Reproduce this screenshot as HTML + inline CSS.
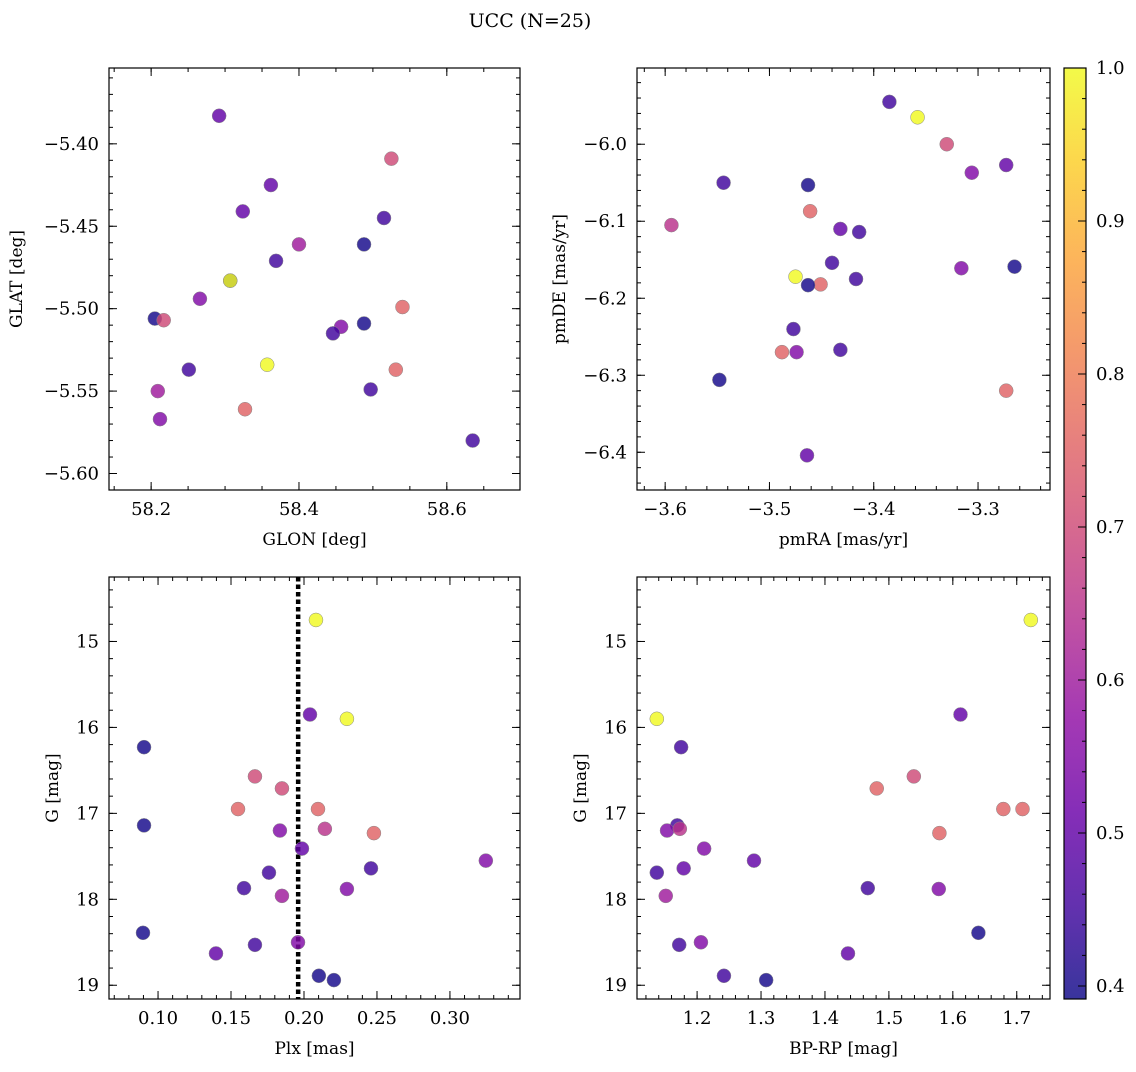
<!DOCTYPE html>
<html><head><meta charset="utf-8"><style>
body{margin:0;background:#fff;}
svg text{font-family:"DejaVu Serif","Liberation Serif",serif;fill:#000;}
</style></head><body>
<svg id="fig" width="1136" height="1067" viewBox="0 0 1136 1067" xmlns="http://www.w3.org/2000/svg">
<text x="530" y="27" font-size="19" text-anchor="middle">UCC (N=25)</text>
<defs><linearGradient id="cbg" x1="0" y1="1" x2="0" y2="0"></linearGradient></defs>
</svg>
<script>
// ---- data ----
const glon=[58.292,58.525,58.362,58.324,58.515,58.400,58.488,58.369,58.307,58.307,58.266,58.205,58.217,58.540,58.457,58.488,58.446,58.357,58.251,58.531,58.209,58.497,58.327,58.212,58.635];
const glat=[-5.383,-5.409,-5.425,-5.441,-5.445,-5.461,-5.461,-5.471,-5.483,-5.483,-5.494,-5.506,-5.507,-5.499,-5.511,-5.509,-5.515,-5.534,-5.537,-5.537,-5.550,-5.549,-5.561,-5.567,-5.580];
const probA=[0.5,0.7,0.5,0.5,0.45,0.6,0.4,0.45,0.4,1.0,0.55,0.4,0.7,0.75,0.55,0.4,0.45,1.0,0.45,0.75,0.6,0.45,0.75,0.55,0.45];
const pmra=[-3.385,-3.358,-3.330,-3.273,-3.306,-3.544,-3.463,-3.461,-3.594,-3.432,-3.414,-3.440,-3.475,-3.417,-3.265,-3.316,-3.451,-3.463,-3.477,-3.488,-3.474,-3.432,-3.548,-3.273,-3.464];
const pmde=[-5.945,-5.965,-6.000,-6.027,-6.037,-6.050,-6.053,-6.087,-6.105,-6.110,-6.114,-6.154,-6.172,-6.175,-6.159,-6.161,-6.182,-6.183,-6.240,-6.270,-6.270,-6.267,-6.306,-6.320,-6.404];
const probB=[0.45,1.0,0.7,0.5,0.55,0.45,0.4,0.75,0.65,0.5,0.45,0.45,1.0,0.45,0.4,0.55,0.75,0.4,0.45,0.75,0.55,0.45,0.4,0.75,0.5];
const plx=[0.2082,0.2041,0.2294,0.0904,0.1664,0.1849,0.1548,0.2096,0.0904,0.1835,0.2143,0.2479,0.1986,0.3246,0.1760,0.2459,0.1589,0.2294,0.1849,0.0897,0.1959,0.1664,0.1397,0.2102,0.2205];
const gmagC=[14.75,15.85,15.90,16.23,16.57,16.71,16.95,16.95,17.14,17.20,17.18,17.23,17.41,17.55,17.69,17.64,17.87,17.88,17.96,18.39,18.50,18.53,18.63,18.89,18.94];
const probC=[1.0,0.5,1.0,0.4,0.7,0.7,0.75,0.75,0.4,0.55,0.65,0.75,0.5,0.55,0.45,0.45,0.45,0.55,0.6,0.4,0.55,0.45,0.5,0.4,0.4];
const bprp=[1.722,1.137,1.612,1.175,1.539,1.481,1.679,1.709,1.169,1.153,1.173,1.579,1.211,1.289,1.137,1.179,1.467,1.578,1.151,1.640,1.206,1.172,1.436,1.242,1.308];
const gmagD=[14.75,15.90,15.85,16.23,16.57,16.71,16.95,16.95,17.14,17.20,17.18,17.23,17.41,17.55,17.69,17.64,17.87,17.88,17.96,18.39,18.50,18.53,18.63,18.89,18.94];
const probD=[1.0,1.0,0.5,0.45,0.7,0.75,0.75,0.75,0.45,0.55,0.65,0.75,0.55,0.5,0.45,0.5,0.45,0.55,0.6,0.4,0.55,0.45,0.5,0.45,0.4];
const plxLine=0.196;
const cbTicks=[0.4,0.5,0.6,0.7,0.8,0.9,1.0];
// ---- helpers ----
const NS="http://www.w3.org/2000/svg";
const svg=document.getElementById('fig');
function mk(tag,attrs,parent){const e=document.createElementNS(NS,tag);for(const k in attrs)e.setAttribute(k,attrs[k]);(parent||svg).appendChild(e);return e;}
const stops=[[13,8,135],[65,4,157],[106,0,168],[143,13,164],[177,42,144],[204,71,120],[225,100,98],[242,132,75],[252,166,54],[252,206,37],[240,249,33]];
function plasma(t){t=Math.max(0,Math.min(1,t));const f=t*10;const i=Math.min(9,Math.floor(f));const u=f-i;const a=stops[i],b=stops[i+1];return `rgb(${Math.round(a[0]+(b[0]-a[0])*u)},${Math.round(a[1]+(b[1]-a[1])*u)},${Math.round(a[2]+(b[2]-a[2])*u)})`;}
const cmin=0.3915,cmax=1.0;
function cmap(v){return plasma((v-cmin)/(cmax-cmin));}
function fmt(v,d){let s=v.toFixed(d);return s.replace('-','\u2212');}
function panel(o){
  const g=mk('g',{});
  
  
  const X=v=>o.x0+(v-o.xmin)/(o.xmax-o.xmin)*(o.x1-o.x0);
  const Y=o.yinv?(v=>o.y0+(v-o.ymin)/(o.ymax-o.ymin)*(o.y1-o.y0)):(v=>o.y1-(v-o.ymin)/(o.ymax-o.ymin)*(o.y1-o.y0));
  const cl=mk('clipPath',{id:'c'+o.name},g);mk('rect',{x:o.x0,y:o.y0,width:o.x1-o.x0,height:o.y1-o.y0},cl);
  const pg=mk('g',{'clip-path':`url(#c${o.name})`},g);
  if(o.vline!==undefined){const l=mk('line',{x1:X(o.vline),x2:X(o.vline),y1:o.y0,y2:o.y1,stroke:'#000','stroke-width':4.5,'stroke-dasharray':'4.5 3'},pg);
    
    }
  for(let i=0;i<o.xs.length;i++){
    const c=mk('circle',{cx:X(o.xs[i]),cy:Y(o.ys[i]),r:7,fill:cmap(o.cs[i]),'fill-opacity':0.82,stroke:'#888','stroke-width':0.5},pg);
    
    
  }
  mk('rect',{x:o.x0,y:o.y0,width:o.x1-o.x0,height:o.y1-o.y0,fill:'none',stroke:'#000','stroke-width':1.2},g);
  const tk=(x1,y1,x2,y2)=>mk('line',{x1,y1,x2,y2,stroke:'#000','stroke-width':1},g);
  for(let v=Math.ceil(o.xmin/o.xminor-1e-9)*o.xminor;v<=o.xmax+1e-9;v+=o.xminor){const x=X(v);tk(x,o.y1,x,o.y1-4);tk(x,o.y0,x,o.y0+4);}
  for(let v=Math.ceil(o.ymin/o.yminor-1e-9)*o.yminor;v<=o.ymax+1e-9;v+=o.yminor){const y=Y(v);tk(o.x0,y,o.x0+4,y);tk(o.x1,y,o.x1-4,y);}
  o.xt.forEach(v=>{const x=X(v);tk(x,o.y1,x,o.y1-8);tk(x,o.y0,x,o.y0+8);
    const t=mk('text',{x:x,y:o.y1+25,'font-size':18,'text-anchor':'middle'},g);t.textContent=fmt(v,o.xd);
    
    });
  o.yt.forEach(v=>{const y=Y(v);tk(o.x0,y,o.x0+8,y);tk(o.x1,y,o.x1-8,y);
    const t=mk('text',{x:o.x0-10,y:y+6,'font-size':18,'text-anchor':'end'},g);t.textContent=fmt(v,o.yd);
    
    });
  const xl=mk('text',{x:(o.x0+o.x1)/2,y:o.y1+55,'font-size':17,'text-anchor':'middle'},g);xl.textContent=o.xlabel;
  
  
  const yx=o.ylx,yy=(o.y0+o.y1)/2;
  const yl=mk('text',{x:yx,y:yy,'font-size':17,'text-anchor':'middle',transform:`rotate(-90 ${yx} ${yy})`},g);yl.textContent=o.ylabel;
  
  
}
panel({name:'glon-glat-panel',x0:109,x1:520,y0:68,y1:490,xmin:58.143,xmax:58.699,ymin:-5.610,ymax:-5.354,xs:glon,ys:glat,cs:probA,
  xt:[58.2,58.4,58.6],xd:1,xminor:0.05,yt:[-5.60,-5.55,-5.50,-5.45,-5.40],yd:2,yminor:0.01,xlabel:'GLON [deg]',ylabel:'GLAT [deg]',ylx:22});
panel({name:'pm-panel',x0:637,x1:1050,y0:68,y1:490,xmin:-3.627,xmax:-3.231,ymin:-6.449,ymax:-5.901,xs:pmra,ys:pmde,cs:probB,
  xt:[-3.6,-3.5,-3.4,-3.3],xd:1,xminor:0.02,yt:[-6.4,-6.3,-6.2,-6.1,-6.0],yd:1,yminor:0.02,xlabel:'pmRA [mas/yr]',ylabel:'pmDE [mas/yr]',ylx:565});
panel({name:'plx-g-panel',x0:109,x1:520,y0:577,y1:999,xmin:0.0664,xmax:0.348,ymin:14.25,ymax:19.16,yinv:true,xs:plx,ys:gmagC,cs:probC,vline:plxLine,
  xt:[0.10,0.15,0.20,0.25,0.30],xd:2,xminor:0.01,yt:[15,16,17,18,19],yd:0,yminor:0.2,xlabel:'Plx [mas]',ylabel:'G [mag]',ylx:58});
panel({name:'cmd-panel',x0:637,x1:1050,y0:577,y1:999,xmin:1.106,xmax:1.752,ymin:14.25,ymax:19.16,yinv:true,xs:bprp,ys:gmagD,cs:probD,
  xt:[1.2,1.3,1.4,1.5,1.6,1.7],xd:1,xminor:0.02,yt:[15,16,17,18,19],yd:0,yminor:0.2,xlabel:'BP-RP [mag]',ylabel:'G [mag]',ylx:586});
// colorbar
const grad=document.getElementById('cbg');
for(let i=0;i<=20;i++){mk('stop',{offset:i/20,'stop-color':plasma(i/20),'stop-opacity':0.82},grad);}
const cb=mk('g',{});


const cbx0=1064,cbx1=1086,cby0=68,cby1=999;
mk('rect',{x:cbx0,y:cby0,width:cbx1-cbx0,height:cby1-cby0,fill:'url(#cbg)',stroke:'#000','stroke-width':1.2},cb);
const CY=v=>cby1-(v-cmin)/(cmax-cmin)*(cby1-cby0);
for(let v=0.40;v<=1.0001;v+=0.02){const y=CY(v);mk('line',{x1:cbx1,x2:cbx1-4,y1:y,y2:y,stroke:'#000'},cb);}
cbTicks.forEach(v=>{const y=CY(v);mk('line',{x1:cbx1,x2:cbx1-8,y1:y,y2:y,stroke:'#000'},cb);
  const t=mk('text',{x:cbx1+10,y:y+6,'font-size':18},cb);t.textContent=v.toFixed(1);
  
  });
</script>
</body></html>
